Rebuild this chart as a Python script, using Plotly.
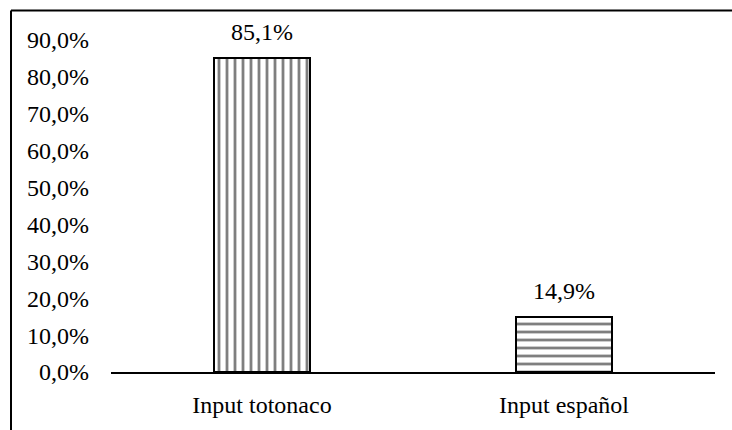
import plotly.graph_objects as go

# Share of input by language
categories = ["Input totonaco", "Input español"]
values = [0.851, 0.149]
patterns = ["|", "-"]
y_ticks = [0.0, 0.1, 0.2, 0.3, 0.4, 0.5, 0.6, 0.7, 0.8, 0.9]

FONT = "Liberation Serif"
FSIZE = 24

fig = go.Figure()
fig.add_trace(go.Bar(
    x=categories,
    y=values,
    width=0.315,
    marker=dict(
        color="white",
        line=dict(color="black", width=2),
        pattern=dict(shape=patterns, fgcolor="black", bgcolor="white",
                     size=8, solidity=0.35, fillmode="overlay"),
    ),
    showlegend=False,
    hoverinfo="skip",
))

for c, v in zip(categories, values):
    fig.add_annotation(
        x=c, y=v, text=f"{v * 100:.1f}%".replace(".", ","),
        showarrow=False, yanchor="bottom", yshift=11,
        font=dict(family=FONT, size=FSIZE, color="black"),
    )

plot_w = 732 - 111 - 17
plot_h = 430 - 40 - 53
frame_top = 1 + 30 / plot_h
frame_left = -100 / plot_w
frame_bottom = -60 / plot_h
page_right = (732 - 111) / plot_w

# outer frame: left and top edges, running to the page borders
fig.add_shape(type="line", xref="paper", yref="paper",
              x0=frame_left, x1=frame_left, y0=frame_bottom, y1=frame_top,
              line=dict(color="black", width=2))
fig.add_shape(type="line", xref="paper", yref="paper",
              x0=frame_left, x1=page_right, y0=frame_top, y1=frame_top,
              line=dict(color="black", width=2))

fig.update_layout(
    width=732, height=430,
    margin=dict(l=111, r=17, t=40, b=53),
    paper_bgcolor="white", plot_bgcolor="white",
    separators=",.",
    font=dict(family=FONT, size=FSIZE, color="black"),
    bargap=0,
    xaxis=dict(
        showline=True, linecolor="black", linewidth=1.5,
        showgrid=False, ticks="", ticklabelstandoff=10,
        tickfont=dict(family=FONT, size=FSIZE),
    ),
    yaxis=dict(
        range=[0, 0.9], tickvals=y_ticks, tickformat=".1%",
        showline=False, showgrid=False, zeroline=False,
        ticks="", ticklabelstandoff=21,
        tickfont=dict(family=FONT, size=FSIZE),
    ),
)

fig.write_html("out.html")
